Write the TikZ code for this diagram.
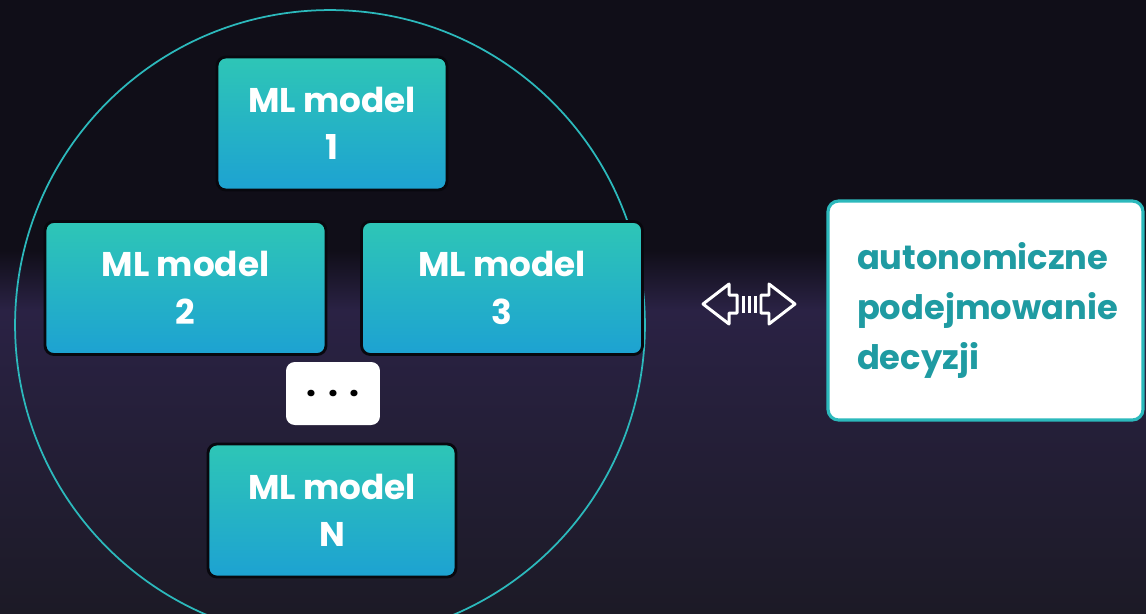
\documentclass[tikz,border=0pt]{standalone}
\usepackage{fontspec}
\setmainfont{Poppins}
\usetikzlibrary{positioning}

\definecolor{bgdark}{HTML}{100E18}
\definecolor{bgpurple}{HTML}{2A2244}
\definecolor{bgfloor}{HTML}{1C1A26}
\definecolor{ringteal}{HTML}{2CB9BC}
\definecolor{boxtop}{HTML}{2EC6B6}
\definecolor{boxbottom}{HTML}{1DA2D2}
\definecolor{boxedge}{HTML}{08080E}
\definecolor{goalteal}{HTML}{1F9BA2}

\tikzset{
  model/.style={draw=boxedge, line width=1.6pt, rounded corners=5pt,
    top color=boxtop, bottom color=boxbottom, text=white,
    font=\bfseries\fontsize{19.5}{27}\selectfont, align=center,
    minimum height=2.66cm, inner sep=0pt},
  more/.style={fill=white, rounded corners=5pt, minimum width=1.88cm,
    minimum height=1.26cm, font=\bfseries\fontsize{20}{20}\selectfont},
  goal/.style={draw=ringteal, line width=1.8pt, fill=white, rounded corners=6pt,
    text=goalteal, font=\bfseries\fontsize{19.2}{28.5}\selectfont, align=left,
    minimum width=6.3cm, minimum height=4.38cm, text width=5.14cm},
  link/.style={draw=white, line width=1.7pt, line join=round}
}

\begin{document}
\begin{tikzpicture}[x=0.02cm,y=-0.02cm]
% background
\useasboundingbox (0,0) rectangle (1146,613);
\fill[bgdark] (0,0) rectangle (1146,613);
\shade[top color=bgdark, bottom color=bgpurple] (0,250) rectangle (1146,310);
\shade[top color=bgpurple, bottom color=bgfloor] (0,310) rectangle (1146,613);

% ring of models
\node[draw=ringteal, line width=1pt, circle, minimum size=12.6cm] (ring) at (330,325) {};
\node[model, minimum width=4.6cm] (m1) at (332,123.5) {ML model\\1};
\node[model, minimum width=5.62cm] (m2) at (185.5,288) {ML model\\2};
\node[model, minimum width=5.62cm] (m3) at (502,288) {ML model\\3};
\node[more] (dots) at (333,393.5) {.\,\,.\,\,.};
\node[model, minimum width=4.96cm] (mN) at (332,510.5) {ML model\\N};

% decision box
\node[goal] (dec) at (985.5,310.5) {autonomiczne\\podejmowanie\\decyzji};

% double arrow icon
\coordinate (lnk) at (749,304);
\draw[link] ([xshift=-0.92cm]lnk.center) -- ++(26,-20) -- ++(0,11) -- ++(8,0) -- ++(0,18) -- ++(-8,0) -- ++(0,11) -- cycle;
\draw[link] ([xshift=0.92cm]lnk.center) -- ++(-26,-20) -- ++(0,11) -- ++(-8,0) -- ++(0,18) -- ++(8,0) -- ++(0,11) -- cycle;
\foreach \dx in {-6,0,6}
  \draw[link] ([xshift=\dx*0.02cm]lnk.center) ++(0,-8) -- ++(0,17);
\end{tikzpicture}
\end{document}
